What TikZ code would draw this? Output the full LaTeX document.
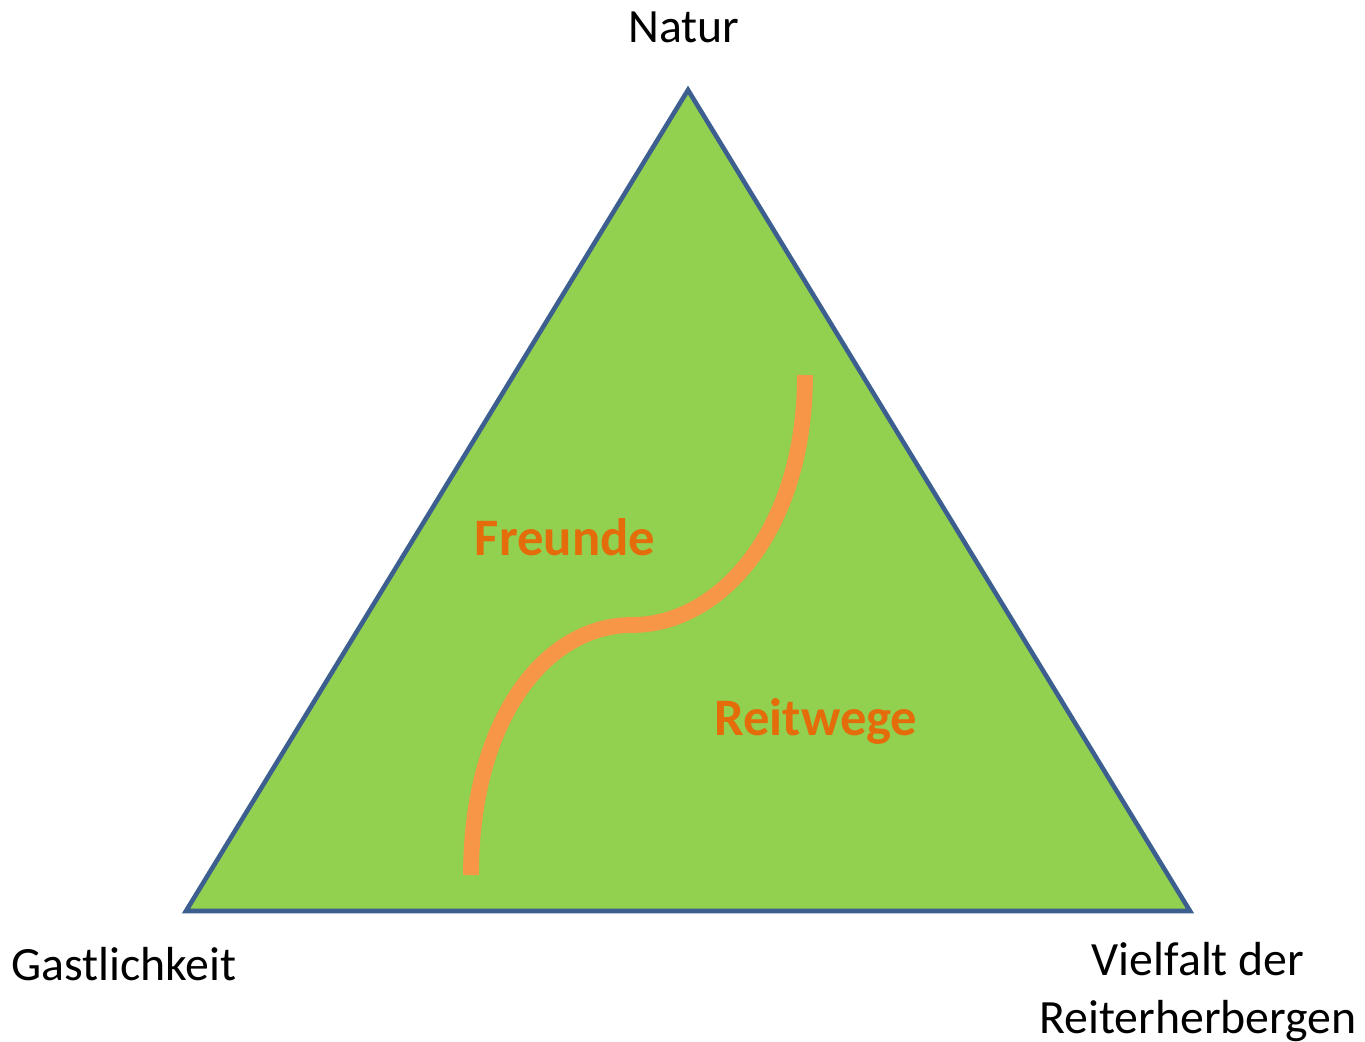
\documentclass[tikz,border=0pt]{standalone}
\usepackage{fontspec}
\setmainfont{Carlito}
\definecolor{dreieck}{HTML}{92D050}
\definecolor{rand}{HTML}{3C5F8F}
\definecolor{weg}{HTML}{F79646}
\definecolor{schrift}{HTML}{E46C0A}
\begin{document}
\begin{tikzpicture}[x=0.02cm, y=-0.02cm,
    ecke/.style={font=\fontsize{27.2}{33}\selectfont, anchor=base, align=center},
    feld/.style={font=\fontsize{30}{36}\selectfont\bfseries, text=schrift, anchor=base}]
    \useasboundingbox (0,0) rectangle (1365,1041);

    % Dreieck
    \coordinate (oben) at (688,90);
    \coordinate (links) at (186,911);
    \coordinate (rechts) at (1190,911);
    \filldraw[fill=dreieck, draw=rand, line width=2.6pt, line join=miter] (oben) -- (rechts) -- (links) -- cycle;

    % Ecken
    \node[ecke] (natur) at (684,42) {Natur};
    \node[ecke] (gast) at (124,980) {Gastlichkeit};
    \node[ecke, anchor=north] (vielfalt) at (1198,936) {Vielfalt der\\Reiterherbergen};

    % Grenze zwischen den Feldern
    \coordinate (start) at (471,875);
    \coordinate (mitte) at (632,625);
    \coordinate (ziel) at (805,375);
    \draw[weg, line width=9pt] (start) .. controls (471,720) and (545,625) .. (mitte)
        .. controls (720,625) and (805,530) .. (ziel);

    % Felder
    \node[feld] (freunde) at (565,555) {Freunde};
    \node[feld] (reitwege) at (816,735) {Reitwege};
\end{tikzpicture}
\end{document}
